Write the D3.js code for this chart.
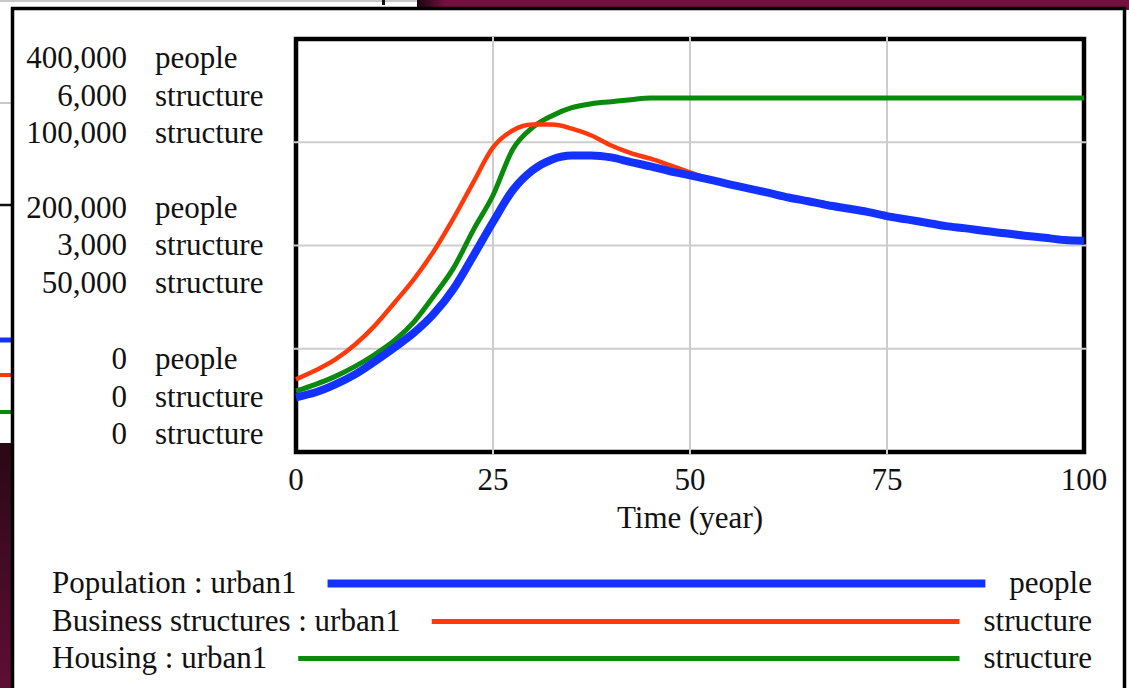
<!DOCTYPE html>
<html><head><meta charset="utf-8">
<script src="https://cdn.jsdelivr.net/npm/d3@7"></script>
<style>
html,body{margin:0;padding:0;background:#fff;overflow:hidden}
svg{display:block}
text{font-family:"Liberation Serif","Times New Roman",serif;fill:#111;font-size:31px}
</style>
</head><body><svg id="c" width="1129" height="688"></svg>
<script>
// ---------- data ----------
const time = [0,2.5,5,7.5,10,12.5,15,17.5,20,22.5,25,27.5,30,32.5,35,37.5,40,42.5,45,47.5,50,
  52.5,55,57.5,60,62.5,65,67.5,70,72.5,75,77.5,80,82.5,85,87.5,90,92.5,95,97.5,100];
const population = [53000,57800,65500,75200,87700,101200,115700,134000,158100,189900,222700,
  253500,272800,283400,287200,287200,285300,280800,276600,271800,268000,263800,259300,255100,
  250900,246500,242900,239000,235900,232600,228400,225300,222000,218800,216600,214000,211800,
  209500,207500,205300,204600];
const business = [1055,1186,1345,1561,1836,2169,2516,2921,3398,3918,4424,4670,4757,4757,4699,
  4598,4453,4342,4261,4164,4063,3972,3904,3841,3778,3711,3658,3600,3552,3503,3441,3393,3344,
  3296,3263,3224,3191,3156,3127,3094,3084];
const housing = [14770,16390,18310,20720,23610,26990,31570,37830,44580,53730,62170,73250,78550,
  81440,83370,84340,84820,85300,85710,85710,85710,85710,85710,85710,85710,85710,85710,85710,
  85710,85710,85710,85710,85710,85710,85710,85710,85710,85710,85710,85710,85710];
const seriesNames = ["Population : urban1","Business structures : urban1","Housing : urban1"];
const seriesUnits = ["people","structure","structure"];
const axisMax = [400000,6000,100000];
const axisMid = [200000,3000,50000];
const axisMin = [0,0,0];
const xTicks = [0,25,50,75,100];
const xLabel = "Time (year)";

// ---------- styles ----------
const colors = ["#1432ff","#ff3a0a","#0a8a0a"];
const widths = [8,4.5,5];
const fmt = d3.format(",");

const svg = d3.select("#c");
const W = 1129, H = 688;
const L = 296, R = 1084, T = 39, B = 452;

// ---------- background decoration (other windows) ----------
const defs = svg.append("defs");
const g1 = defs.append("linearGradient").attr("id","topg").attr("x1",0).attr("x2",1).attr("y1",0).attr("y2",0);
g1.append("stop").attr("offset","0").attr("stop-color","#1a0410");
g1.append("stop").attr("offset","1").attr("stop-color","#74103f");
const g2 = defs.append("linearGradient").attr("id","leftg").attr("x1",0).attr("x2",0).attr("y1",0).attr("y2",1);
g2.append("stop").attr("offset","0").attr("stop-color","#2a0816");
g2.append("stop").attr("offset","1").attr("stop-color","#5e0e34");

svg.append("rect").attr("x",0).attr("y",0).attr("width",W).attr("height",H).attr("fill","#fff");
svg.append("rect").attr("x",417).attr("y",0).attr("width",W-417).attr("height",10).attr("fill","#74103f");
svg.append("rect").attr("x",417).attr("y",0).attr("width",28).attr("height",10).attr("fill","url(#topg)");
svg.append("line").attr("x1",0).attr("x2",417).attr("y1",1).attr("y2",1).attr("stroke","#c8c8c8").attr("stroke-width",2);
svg.append("rect").attr("x",382).attr("y",0).attr("width",3).attr("height",5).attr("fill","#111");
svg.append("rect").attr("x",0).attr("y",443).attr("width",13).attr("height",H-443).attr("fill","url(#leftg)");
svg.append("line").attr("x1",0).attr("x2",12).attr("y1",103).attr("y2",103).attr("stroke","#c8c8c8").attr("stroke-width",2);
svg.append("line").attr("x1",0).attr("x2",12).attr("y1",205).attr("y2",205).attr("stroke","#111").attr("stroke-width",2.5);
[340,375,412].forEach((yy,i)=>{
  svg.append("line").attr("x1",0).attr("x2",12).attr("y1",yy).attr("y2",yy)
    .attr("stroke",colors[i]).attr("stroke-width",i===0?5:4);
});
// main panel border
svg.append("path").attr("d",`M12.5,${H+5} V8.5 H1124.5 V${H+5}`)
  .attr("fill","none").attr("stroke","#000").attr("stroke-width",3.5);

// ---------- scales ----------
const x = d3.scaleLinear().domain([0,100]).range([L,R]);
const ys = axisMax.map(m => d3.scaleLinear().domain([0,m]).range([B,T]));

// ---------- frame ----------
svg.append("rect").attr("x",L).attr("y",T).attr("width",R-L).attr("height",B-T)
  .attr("fill","none").attr("stroke","#000").attr("stroke-width",4.5);

// ---------- grid (drawn over the frame) ----------
const grid = svg.append("g").attr("stroke","#cdcdcd").attr("stroke-width",2);
grid.selectAll("line.v").data(xTicks.slice(1,-1)).join("line").attr("class","v")
  .attr("x1",d=>x(d)).attr("x2",d=>x(d)).attr("y1",T-2).attr("y2",B+2);
grid.selectAll("line.h").data([axisMax[0]*0.25,axisMax[0]*0.5,axisMax[0]*0.75]).join("line").attr("class","h")
  .attr("y1",d=>ys[0](d)).attr("y2",d=>ys[0](d)).attr("x1",L-2).attr("x2",R+2);

// ---------- series ----------
const seriesData = [population,business,housing];
const order = [2,1,0];
order.forEach(i=>{
  const line = d3.line().x((d,j)=>x(time[j])).y(d=>ys[i](d)).curve(d3.curveMonotoneX);
  svg.append("path").datum(seriesData[i]).attr("d",line)
    .attr("fill","none").attr("stroke",colors[i]).attr("stroke-width",widths[i])
    .attr("stroke-linejoin","round");
});

// ---------- y axis labels ----------
const numX = 127, unitX = 155, lh = 37.5;
const yMid = (T+B)/2;
const groups = [
  {vals: axisMax, base: T + 29},
  {vals: axisMid, base: yMid + 9.5 - lh},
  {vals: axisMin, base: B - 8 - 2*lh}
];
groups.forEach(gr=>{
  gr.vals.forEach((v,i)=>{
    svg.append("text").attr("x",numX).attr("y",gr.base + i*lh).attr("text-anchor","end").text(fmt(v));
    svg.append("text").attr("x",unitX).attr("y",gr.base + i*lh).text(seriesUnits[i]);
  });
});

// ---------- x axis ----------
svg.selectAll("text.xt").data(xTicks).join("text").attr("class","xt")
  .attr("x",d=>x(d)).attr("y",B+38).attr("text-anchor","middle").text(d=>d);
svg.append("text").attr("x",x(50)).attr("y",B+76).attr("text-anchor","middle").text(xLabel);

// ---------- legend ----------
const legBase = [593,631,668];
seriesNames.forEach((n,i)=>{
  const t = svg.append("text").attr("x",52).attr("y",legBase[i]).text(n);
  const u = svg.append("text").attr("x",1092).attr("y",legBase[i]).attr("text-anchor","end").text(seriesUnits[i]);
  const tEnd = 52 + t.node().getComputedTextLength();
  const uStart = 1092 - u.node().getComputedTextLength();
  svg.append("line").attr("x1",tEnd+31).attr("x2",uStart-24)
    .attr("y1",legBase[i]-9.5).attr("y2",legBase[i]-9.5)
    .attr("stroke",colors[i]).attr("stroke-width",i===0?8:5);
});
</script>
</body></html>
